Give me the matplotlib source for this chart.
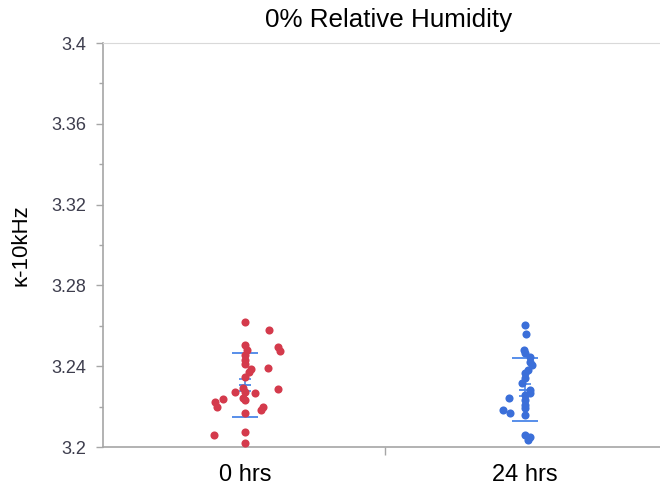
import matplotlib
matplotlib.use("Agg")
import matplotlib.pyplot as plt
from matplotlib.ticker import MultipleLocator

plt.rcParams['font.family'] = ['Liberation Sans', 'DejaVu Sans']

# data
groups = ['0 hrs', '24 hrs']
red_vals = [3.262, 3.258, 3.2505, 3.248, 3.2494, 3.2477, 3.2456, 3.2431, 3.2411, 3.2386,
            3.2373, 3.239, 3.2345, 3.2291, 3.2271, 3.2273, 3.2266, 3.2286, 3.2241, 3.2233,
            3.2236, 3.2225, 3.2197, 3.2197, 3.2183, 3.217, 3.2059, 3.2073, 3.2018]
red_jitter = [0, 24, 0, 2, 33, 35, 0, 0, 0, 6, 4, 23, 0, -2, -10, 0, 10, 33, -2, 0,
              -22, -30, -28, 18, 16, 0, -31, 0, 0]
blue_vals = [3.2604, 3.256, 3.248, 3.2464, 3.2444, 3.2422, 3.2406, 3.2381, 3.2365, 3.234,
             3.2315, 3.2282, 3.2269, 3.2257, 3.2241, 3.2233, 3.2208, 3.2183, 3.2167, 3.2192,
             3.2159, 3.2059, 3.205, 3.2035]
blue_jitter = [0, 1, -1, 0, 5, 5, 7, 3, 0, 0, -3, 5, 5, 0, -16, 0, 0, -22, -15, 0,
               0, 0, 5, 3]
means = [3.2306, 3.2284]
sds = [0.0159, 0.0155]
ses = [0.0030, 0.0030]

red = '#d43a4c'
blue = '#3b6fd9'
bar_blue = '#4a86e8'
grey = '#a6a6a6'

fig = plt.figure(figsize=(6.6, 4.87), dpi=100)
ax = fig.add_axes([0.156, 0.082, 0.855, 0.8296])

# jitter stored in pixels, category spacing is 280 px
ax.scatter([0 + j / 280 for j in red_jitter], red_vals, s=34, color=red, zorder=5, linewidths=0)
ax.scatter([1 + j / 280 for j in blue_jitter], blue_vals, s=34, color=blue, zorder=5, linewidths=0)

for i in range(2):
    ax.hlines([means[i] - sds[i], means[i] + sds[i]], i - 0.047, i + 0.047, color=bar_blue, lw=1.3, zorder=4)
    ax.hlines(means[i], i - 0.022, i + 0.022, color=bar_blue, lw=1.3, zorder=4)
    ax.errorbar(i, means[i], yerr=ses[i], color=bar_blue, lw=1.2, capsize=4, capthick=1.2, zorder=4)

ax.set_xlim(-0.507, 1.507)
ax.set_ylim(3.2, 3.4)
ax.yaxis.set_major_locator(MultipleLocator(0.04))
ax.yaxis.set_minor_locator(MultipleLocator(0.02))
ax.set_yticks([3.2, 3.24, 3.28, 3.32, 3.36, 3.4])
ax.set_yticklabels(['3.2', '3.24', '3.28', '3.32', '3.36', '3.4'], fontsize=13, color='#3d3d4d')
ax.set_xticks([0.5])
ax.set_xticklabels([''])
ax.tick_params(axis='y', which='major', length=5, color=grey, width=1, pad=7)
ax.tick_params(axis='y', which='minor', length=3, color=grey, width=1)
ax.tick_params(axis='x', length=6, color=grey, width=1)
for i, g in enumerate(groups):
    ax.text(i, -0.084, g, transform=ax.get_xaxis_transform(), ha='center', va='baseline',
            fontsize=17, color='black')

for side in ['left', 'bottom']:
    ax.spines[side].set_color(grey)
    ax.spines[side].set_linewidth(1.2)
ax.spines['top'].set_color('#d9d9d9')
ax.spines['right'].set_visible(False)

ax.set_ylabel('κ-10kHz', fontsize=16)
ax.yaxis.set_label_coords(-0.127, 0.5)
fig.text(0.588, 0.945, '0% Relative Humidity', ha='center', va='baseline', fontsize=18.7)

fig.savefig('out.png', dpi=100)
